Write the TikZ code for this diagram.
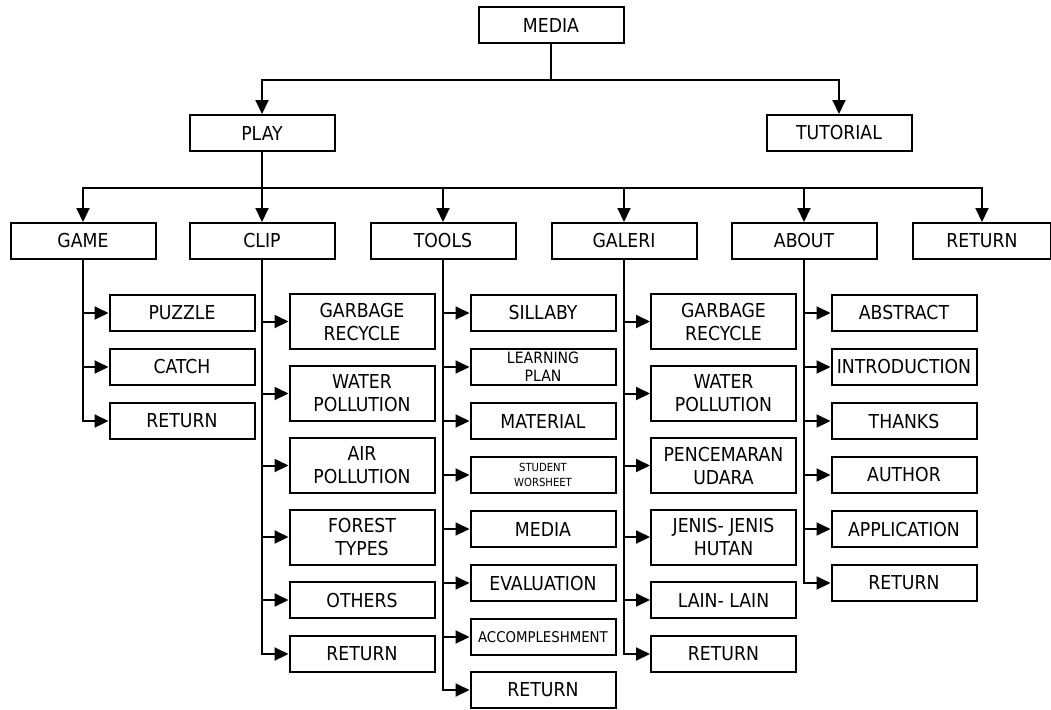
\documentclass[tikz,border=0pt]{standalone}
\usepackage{fontspec}
\setmainfont{DejaVu Sans Condensed}
\usetikzlibrary{arrows.meta}

\begin{document}
\begin{tikzpicture}[
  x=0.5pt,y=-0.5pt,
  menu/.style={draw, line width=1pt, minimum width=72.5pt, minimum height=18pt, inner sep=1pt, align=center, font=\fontsize{9.6}{11.5}\selectfont},
  menutall/.style={menu, minimum height=27.5pt},
  arr/.style={-{Triangle[length=7pt,width=6.5pt]}, line width=1pt}
]
\useasboundingbox (0,0) rectangle (1051,709);
% top levels
\node[menu] (media) at (551,25) {MEDIA};
\node[menu] (play) at (262,133) {PLAY};
\node[menu] (tutorial) at (839,133) {TUTORIAL};
\node[menu] (game) at (83,241) {GAME};
\node[menu] (clip) at (262,241) {CLIP};
\node[menu] (tools) at (443,241) {TOOLS};
\node[menu] (galeri) at (624,241) {GALERI};
\node[menu] (about) at (804,241) {ABOUT};
\node[menu, minimum width=69pt] (back) at (982,241) {RETURN};
% game
\node[menu] (puzzle) at (182,313) {PUZZLE};
\node[menu] (catch) at (182,367) {CATCH};
\node[menu] (gameret) at (182,421) {RETURN};
% clip
\node[menutall] (cgarbage) at (362,321.5) {GARBAGE\\RECYCLE};
\node[menutall] (cwater) at (362,393.5) {WATER\\POLLUTION};
\node[menutall] (cair) at (362,465.5) {AIR\\POLLUTION};
\node[menutall] (cforest) at (362,537) {FOREST\\TYPES};
\node[menu] (cothers) at (362,600) {OTHERS};
\node[menu] (clipret) at (362,654) {RETURN};
% tools
\node[menu] (sillaby) at (543,313) {SILLABY};
\node[menu, font=\fontsize{7.8}{9}\selectfont] (plan) at (543,367) {LEARNING\\PLAN};
\node[menu] (material) at (543,421) {MATERIAL};
\node[menu, font=\fontsize{5.6}{7.5}\selectfont] (worksheet) at (543,475) {STUDENT\\WORSHEET};
\node[menu] (tmedia) at (543,529) {MEDIA};
\node[menu] (evaluation) at (543,583) {EVALUATION};
\node[menu, font=\fontsize{7.4}{9}\selectfont] (accomplish) at (543,637) {ACCOMPLESHMENT};
\node[menu] (toolsret) at (543,690) {RETURN};
% galeri
\node[menutall] (ggarbage) at (723.5,321.5) {GARBAGE\\RECYCLE};
\node[menutall] (gwater) at (723.5,393.5) {WATER\\POLLUTION};
\node[menutall] (gudara) at (723.5,465.5) {PENCEMARAN\\UDARA};
\node[menutall] (ghutan) at (723.5,537) {JENIS- JENIS\\HUTAN};
\node[menu] (glain) at (723.5,600) {LAIN- LAIN};
\node[menu] (galeriret) at (723.5,654) {RETURN};
% about
\node[menu] (abstract) at (904,313) {ABSTRACT};
\node[menu] (intro) at (904,367) {INTRODUCTION};
\node[menu] (thanks) at (904,421) {THANKS};
\node[menu] (author) at (904,475) {AUTHOR};
\node[menu] (application) at (904,529) {APPLICATION};
\node[menu] (aboutret) at (904,583) {RETURN};
% connectors
\draw[arr] (media.south) -- ++(0,36) -| (play.north); \draw[arr] (media.south) -- ++(0,36) -| (tutorial.north);
\draw[arr] (play.south) -- ++(0,36) -| (game.north); \draw[arr] (play.south) -- (clip.north); \draw[arr] (play.south) -- ++(0,36) -| (tools.north);
\draw[arr] (play.south) -- ++(0,36) -| (galeri.north); \draw[arr] (play.south) -- ++(0,36) -| (about.north); \draw[arr] (play.south) -- ++(0,36) -| (back.north);
\draw[arr] (game.south) |- (puzzle.west); \draw[arr] (game.south) |- (catch.west); \draw[arr] (game.south) |- (gameret.west);
\draw[arr] (clip.south) |- (cgarbage.west); \draw[arr] (clip.south) |- (cwater.west); \draw[arr] (clip.south) |- (cair.west);
\draw[arr] (clip.south) |- (cforest.west); \draw[arr] (clip.south) |- (cothers.west); \draw[arr] (clip.south) |- (clipret.west);
\draw[arr] (tools.south) |- (sillaby.west); \draw[arr] (tools.south) |- (plan.west); \draw[arr] (tools.south) |- (material.west); \draw[arr] (tools.south) |- (worksheet.west);
\draw[arr] (tools.south) |- (tmedia.west); \draw[arr] (tools.south) |- (evaluation.west); \draw[arr] (tools.south) |- (accomplish.west); \draw[arr] (tools.south) |- (toolsret.west);
\draw[arr] (galeri.south) |- (ggarbage.west); \draw[arr] (galeri.south) |- (gwater.west); \draw[arr] (galeri.south) |- (gudara.west);
\draw[arr] (galeri.south) |- (ghutan.west); \draw[arr] (galeri.south) |- (glain.west); \draw[arr] (galeri.south) |- (galeriret.west);
\draw[arr] (about.south) |- (abstract.west); \draw[arr] (about.south) |- (intro.west); \draw[arr] (about.south) |- (thanks.west);
\draw[arr] (about.south) |- (author.west); \draw[arr] (about.south) |- (application.west); \draw[arr] (about.south) |- (aboutret.west);
\end{tikzpicture}
\end{document}
